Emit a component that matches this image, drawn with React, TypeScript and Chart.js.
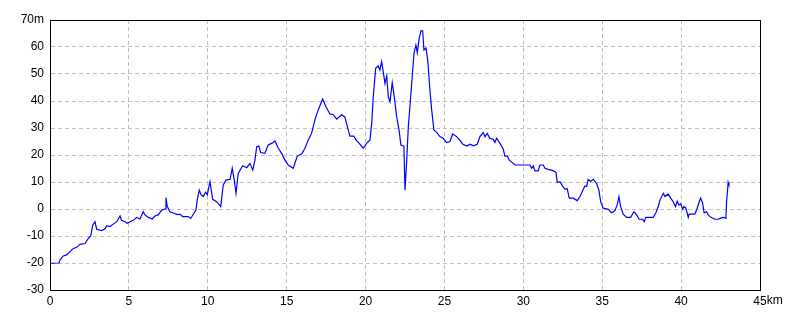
import React, { useEffect, useRef } from "react";
import { Chart, registerables } from "chart.js";

Chart.register(...registerables);

const distanceKm = [
  0.06, 0.57, 0.63, 0.84, 1.06, 1.27, 1.48, 1.69, 1.90, 2.22, 2.43, 2.58, 2.71, 2.85, 2.96, 3.28, 3.49, 3.59, 3.80, 4.01,
  4.23, 4.44, 4.54, 4.75, 4.90, 5.07, 5.28, 5.49, 5.70, 5.91, 6.02, 6.23, 6.48, 6.65, 6.86, 7.08, 7.29, 7.35, 7.43, 7.60,
  7.81, 8.03, 8.24, 8.41, 8.76, 8.92, 9.13, 9.25, 9.33, 9.46, 9.57, 9.71, 9.87, 9.97, 10.14, 10.31, 10.56, 10.82, 10.98, 11.15,
  11.41, 11.55, 11.68, 11.79, 11.93, 12.21, 12.47, 12.67, 12.85, 12.99, 13.10, 13.24, 13.35, 13.62, 13.83, 14.05, 14.26, 14.47, 14.68, 14.89,
  15.10, 15.42, 15.67, 15.95, 16.16, 16.37, 16.58, 16.79, 17.00, 17.28, 17.49, 17.74, 17.95, 18.17, 18.49, 18.69, 18.90, 19.01, 19.26, 19.44,
  19.60, 19.85, 20.07, 20.28, 20.39, 20.49, 20.64, 20.80, 20.91, 21.02, 21.12, 21.23, 21.34, 21.44, 21.55, 21.69, 21.82, 21.97, 22.12, 22.24,
  22.43, 22.50, 22.61, 22.71, 22.86, 22.99, 23.07, 23.19, 23.28, 23.40, 23.51, 23.62, 23.70, 23.83, 23.94, 24.08, 24.19, 24.33, 24.51, 24.71,
  24.92, 25.14, 25.35, 25.52, 25.73, 25.94, 26.15, 26.41, 26.62, 26.83, 27.08, 27.25, 27.46, 27.57, 27.71, 27.88, 28.09, 28.20, 28.31, 28.52,
  28.73, 28.83, 28.98, 29.11, 29.32, 29.47, 30.42, 30.53, 30.63, 30.73, 30.94, 31.05, 31.26, 31.37, 31.58, 31.89, 32.07, 32.15, 32.32, 32.49,
  32.64, 32.78, 32.91, 33.16, 33.42, 33.59, 33.76, 33.90, 34.01, 34.11, 34.26, 34.43, 34.64, 34.79, 34.90, 35.06, 35.38, 35.59, 35.80, 35.95,
  36.06, 36.17, 36.33, 36.55, 36.80, 37.01, 37.18, 37.34, 37.56, 37.66, 37.77, 38.23, 38.40, 38.55, 38.66, 38.87, 38.97, 39.18, 39.33, 39.50,
  39.65, 39.75, 39.86, 39.97, 40.10, 40.18, 40.30, 40.39, 40.45, 40.51, 40.87, 41.02, 41.15, 41.24, 41.36, 41.46, 41.61, 41.72, 41.89, 42.14,
  42.35, 42.50, 42.67, 42.84, 42.88, 42.95, 42.98, 43.03,
];

const elevationM = [
  -20.1, -20, -18.9, -17.4, -17, -15.8, -14.6, -14.2, -13.1, -12.8, -10.9, -10, -5.9, -4.7, -7.5, -8, -7.3, -6.2, -6.5, -5.6,
  -4.7, -2.6, -4.2, -4.7, -5.3, -4.7, -4.2, -3.1, -3.7, -1, -2.2, -3.1, -3.7, -2.6, -2.2, -0.4, 0, 4.2, 1, -1,
  -1.5, -2, -2, -2.8, -2.8, -3.5, -1.5, -0.4, 3.3, 7, 5.3, 4.6, 6.2, 5.3, 10.1, 3.6, 2.7, 0.9, 8.9, 10.7,
  11, 15.1, 10.7, 5.8, 13.2, 16, 15.3, 16.9, 14.4, 18.1, 23.1, 23.3, 20.9, 20.6, 23.7, 24.3, 25.2, 22.5, 20.6, 18.1,
  16.3, 15.1, 19.6, 20.4, 22.5, 25.6, 28, 33, 36.7, 40.7, 37.9, 35.2, 35, 33.3, 34.9, 34, 29.3, 27, 27, 25.2,
  24.3, 22.5, 24.3, 25.6, 31.7, 41.6, 52.1, 53, 51.5, 54.6, 50.9, 46.5, 49.3, 41.6, 39.7, 46.8, 41.6, 34.2, 29.3, 23.7,
  23.3, 7, 18.1, 30.5, 41.6, 51.5, 57.7, 60.7, 57.9, 63.2, 66, 66, 58.9, 59.6, 55.2, 44, 36.7, 29.3, 28.4, 26.8,
  26.2, 24.6, 25, 27.8, 27, 25.8, 24.1, 23.3, 24, 23.4, 24, 26.8, 28.3, 26.8, 28, 26.2, 25.8, 24.7, 26.2, 24.3,
  22.1, 19.6, 19.6, 18.1, 17.1, 16.3, 16.3, 15.1, 16, 14.1, 14.1, 16.3, 16.3, 15.1, 14.7, 14.2, 13.5, 9.8, 10.1, 8.5,
  7.3, 7.6, 4, 4, 3.1, 4.6, 6.8, 8.5, 8.3, 11, 10.2, 11, 9.5, 7, 2.7, 0.3, -0.1, -1.4, -0.7, 1.5,
  4.6, 0.9, -1.9, -3.1, -3.1, -1, -2.2, -3.8, -3.8, -4.7, -3.1, -3.1, -1.4, 0.9, 3.3, 5.8, 4.6, 5.5, 4.1, 2.7,
  0.9, 2.9, 1.5, 1.9, -0.1, 0.9, 0.3, -1.6, -3.1, -1.9, -1.9, 0.3, 2.7, 4, 2.3, -1.4, -1, -2.2, -3.1, -3.8,
  -3.8, -3.4, -3.1, -3.4, 2.7, 7.3, 9.9, 9,
];

const xTicks = [0, 5, 10, 15, 20, 25, 30, 35, 40, 45];
const yTicks = [-30, -20, -10, 0, 10, 20, 30, 40, 50, 60, 70];
const xUnit = "km";
const yUnit = "m";
const FONT = "12px 'Liberation Sans', Arial, sans-serif";

const borderPlugin = {
  id: "frameBorder",
  afterDatasetsDraw(chart: any) {
    const { ctx, chartArea } = chart;
    ctx.save();
    ctx.strokeStyle = "#000000";
    ctx.lineWidth = 1;
    ctx.strokeRect(
      Math.round(chartArea.left) + 0.5,
      Math.round(chartArea.top) + 0.5,
      Math.round(chartArea.right - chartArea.left),
      Math.round(chartArea.bottom - chartArea.top)
    );
    // unit after the last x tick label
    const xs = chart.scales.x;
    const lastVal = xTicks[xTicks.length - 1];
    const px = xs.getPixelForValue(lastVal);
    ctx.font = FONT;
    ctx.fillStyle = "#000000";
    const w = ctx.measureText(String(lastVal)).width;
    ctx.textAlign = "left";
    ctx.textBaseline = "middle";
    ctx.fillText(xUnit, px + w / 2, xs.top + 4 + 7);
    ctx.restore();
  },
};

export default function App() {
  const ref = useRef<HTMLCanvasElement | null>(null);

  useEffect(() => {
    if (!ref.current) return;
    const points = distanceKm.map((d, i) => ({ x: d, y: elevationM[i] }));
    const chart = new Chart(ref.current, {
      type: "line",
      data: {
        datasets: [
          {
            data: points,
            borderColor: "#0000ff",
            borderWidth: 1.2,
            pointRadius: 0,
            tension: 0,
            fill: false,
          },
        ],
      },
      options: {
        animation: false,
        responsive: false,
        maintainAspectRatio: false,
        layout: { padding: { left: 0, right: 40, top: 20, bottom: 0 } },
        plugins: {
          legend: { display: false },
          tooltip: { enabled: false },
        },
        scales: {
          x: {
            type: "linear",
            min: 0,
            max: 45,
            afterBuildTicks: (scale: any) => {
              scale.ticks = xTicks.map((v) => ({ value: v }));
            },
            afterFit: (scale: any) => {
              scale.height = 30;
            },
            ticks: {
              color: "#000000",
              padding: 4,
              font: { family: "Liberation Sans, Arial, sans-serif", size: 12 },
              maxRotation: 0,
              callback: (v: any) => String(v),
            },
            grid: {
              color: "#c0c0c0",
              drawTicks: false,
              lineWidth: 1,
            },
            border: { display: true, color: "#000000", dash: [4, 3] },
          },
          y: {
            type: "linear",
            min: -30,
            max: 70,
            afterBuildTicks: (scale: any) => {
              scale.ticks = yTicks.map((v) => ({ value: v }));
            },
            afterFit: (scale: any) => {
              scale.width = 50;
            },
            ticks: {
              color: "#000000",
              padding: 6,
              font: { family: "Liberation Sans, Arial, sans-serif", size: 12 },
              callback: (v: any) => (v === 70 ? "70" + yUnit : String(v)),
            },
            grid: {
              color: "#c0c0c0",
              drawTicks: false,
              lineWidth: 1,
            },
            border: { display: true, color: "#000000", dash: [4, 3] },
          },
        },
      },
      plugins: [borderPlugin],
    });
    return () => chart.destroy();
  }, []);

  return (
    <div style={{ position: "fixed", left: 0, top: 0, width: 800, height: 320, background: "#ffffff" }}>
      <canvas ref={ref} width={800} height={320} style={{ width: 800, height: 320 }} />
    </div>
  );
}
